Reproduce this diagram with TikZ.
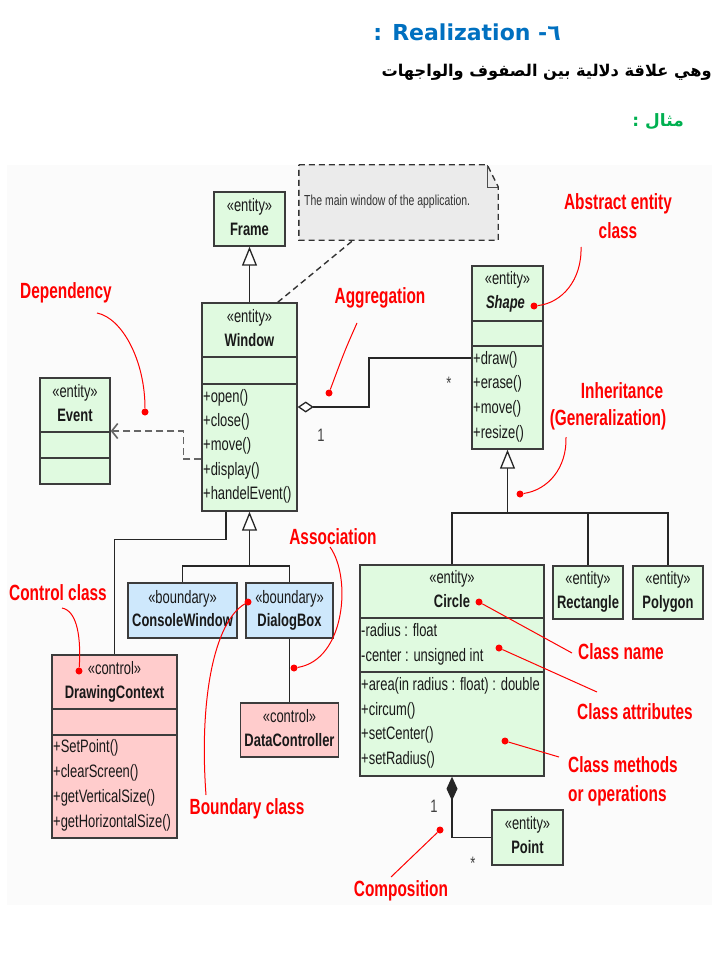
\documentclass[tikz,border=0pt]{standalone}
\usepackage{fontspec}
\TeXXeTstate=1
\usetikzlibrary{arrows.meta,calc}
\newfontfamily\umlf[FakeStretch=0.72]{Liberation Sans}
\newfontfamily\redf[FakeStretch=0.70]{Liberation Sans}
\newfontfamily\titlef{DejaVu Sans}
\newfontfamily\arabicfont[Script=Arabic]{DejaVu Sans}
\definecolor{entfill}{RGB}{224,250,224}
\definecolor{bndfill}{RGB}{206,232,252}
\definecolor{ctlfill}{RGB}{255,204,204}
\definecolor{notefill}{RGB}{235,235,235}
\definecolor{boxline}{RGB}{60,60,60}
\definecolor{umltext}{RGB}{25,25,25}
\definecolor{annred}{RGB}{255,0,0}
\definecolor{titleblue}{RGB}{0,112,192}
\definecolor{titlegreen}{RGB}{0,176,80}
\definecolor{bggray}{RGB}{251,251,251}
\begin{document}
\begin{tikzpicture}[x=1pt,y=-1pt,
  cls/.style={draw=boxline,line width=1.4pt,inner sep=0pt},
  ent/.style={cls,fill=entfill},
  bnd/.style={cls,fill=bndfill},
  ctl/.style={cls,fill=ctlfill},
  divl/.style={draw=boxline,line width=1.4pt},
  st/.style={inner sep=0pt,text height=13pt,text depth=4pt,text=umltext,font=\umlf\fontsize{18}{20}\selectfont},
  nm/.style={st,font=\umlf\bfseries\fontsize{18}{20}\selectfont},
  mt/.style={st,anchor=west},
  mult/.style={st,text=black!75},
  lab/.style={inner sep=0pt,text=annred,font=\redf\bfseries\fontsize{22}{29}\selectfont},
  reddot/.style={circle,fill=annred,inner sep=0pt,minimum size=7pt},
  redline/.style={draw=annred,line width=1pt},
  conn/.style={draw=black!85,line width=1.3pt},
  gen/.style={conn,-{Triangle[fill=white,length=19pt,width=15pt]}},
  notestyle/.style={draw=black!80,line width=1.4pt,dash pattern=on 6pt off 4pt,fill=notefill},
  deplink/.style={draw=black!60,line width=1.6pt,dash pattern=on 7pt off 4pt,-{Straight Barb[length=6pt,width=15pt]}}
]
\useasboundingbox (0,0) rectangle (720,960);
\fill[bggray] (7,165) rectangle (712,905);

% ---- header texts
\node[inner sep=0pt,text=titleblue,font=\titlef\bfseries\fontsize{22}{24}\selectfont] (title) at (467,32) {: Realization -٦};
\node[inner sep=0pt,anchor=east,font=\arabicfont\bfseries\fontsize{16.2}{18}\selectfont] (sub) at (712,72) {\beginR وهي علاقة دلالية بين الصفوف والواجهات\endR};
\node[inner sep=0pt,anchor=east,text=titlegreen,font=\arabicfont\bfseries\fontsize{17}{18}\selectfont] (ex) at (684,122) {\beginR مثال :\endR};

% ---- note
\node[inner sep=0pt,minimum width=199pt,minimum height=75pt] (note) at (398.5,202.5) {};
\draw[notestyle] (note.north west) -- ([xshift=-11pt]note.north east) -- ([yshift=-22pt]note.north east) -- (note.south east) -- (note.south west) -- cycle;
\draw[draw=black!70,line width=1pt] ([xshift=-11pt]note.north east) -- ([xshift=-11pt,yshift=-23pt]note.north east) -- ([yshift=-23pt]note.north east);
\node[st,anchor=west,font=\umlf\fontsize{14.5}{16}\selectfont,text=black!80] (notet) at (304,201) {The main window of the application.};

% ---- class boxes
\node[ent,minimum width=71pt,minimum height=54pt] (frame) at (249.5,219) {};
\node[st] (frameS) at (249.5,207) {«entity»};
\node[nm] (frameN) at (249.5,231) {Frame};

\node[ent,minimum width=95pt,minimum height=208pt] (window) at (249.5,407) {};
\draw[divl] (window.west |- 0,357) -- (window.east |- 0,357);
\draw[divl] (window.west |- 0,384) -- (window.east |- 0,384);
\node[st] (windowS) at (249.5,318) {«entity»};
\node[nm] (windowN) at (249.5,342) {Window};
\node[mt] (wm1) at (203,398) {+open()};
\node[mt] (wm2) at (203,422) {+close()};
\node[mt] (wm3) at (203,446) {+move()};
\node[mt] (wm4) at (203,471) {+display()};
\node[mt] (wm5) at (203,495) {+handelEvent()};

\node[ent,minimum width=70pt,minimum height=106pt] (event) at (75,431) {};
\draw[divl] (event.west |- 0,432) -- (event.east |- 0,432);
\draw[divl] (event.west |- 0,458) -- (event.east |- 0,458);
\node[st] (eventS) at (75,393) {«entity»};
\node[nm] (eventN) at (75,417) {Event};

\node[ent,minimum width=71pt,minimum height=183pt] (shape) at (507.5,357.5) {};
\draw[divl] (shape.west |- 0,321) -- (shape.east |- 0,321);
\draw[divl] (shape.west |- 0,346) -- (shape.east |- 0,346);
\node[st] (shapeS) at (507.5,280) {«entity»};
\node[nm,font=\umlf\bfseries\itshape\fontsize{18}{20}\selectfont] (shapeN) at (505.5,304) {Shape};
\node[mt] (sm1) at (473,360) {+draw()};
\node[mt] (sm2) at (473,384) {+erase()};
\node[mt] (sm3) at (473,409) {+move()};
\node[mt] (sm4) at (473,434) {+resize()};

\node[ent,minimum width=184pt,minimum height=211pt] (circle) at (452,670.5) {};
\draw[divl] (circle.west |- 0,618) -- (circle.east |- 0,618);
\draw[divl] (circle.west |- 0,672) -- (circle.east |- 0,672);
\node[st] (circleS) at (452,579) {«entity»};
\node[nm] (circleN) at (452,603) {Circle};
\node[mt] (ca1) at (361,632) {-radius : float};
\node[mt] (ca2) at (361,657) {-center : unsigned int};
\node[mt] (cm1) at (361,686) {+area(in radius : float) : double};
\node[mt] (cm2) at (361,711) {+circum()};
\node[mt] (cm3) at (361,735) {+setCenter()};
\node[mt] (cm4) at (361,760) {+setRadius()};

\node[ent,minimum width=70pt,minimum height=53pt] (rect) at (588,592.5) {};
\node[st] (rectS) at (588,580) {«entity»};
\node[nm] (rectN) at (588,604) {Rectangle};

\node[ent,minimum width=70pt,minimum height=53pt] (poly) at (668,592.5) {};
\node[st] (polyS) at (668,580) {«entity»};
\node[nm] (polyN) at (668,604) {Polygon};

\node[ent,minimum width=71pt,minimum height=55pt] (point) at (527.5,837.5) {};
\node[st] (pointS) at (527.5,825) {«entity»};
\node[nm] (pointN) at (527.5,849) {Point};

\node[bnd,minimum width=109pt,minimum height=55pt] (console) at (182.5,610.5) {};
\node[st] (consoleS) at (182.5,599) {«boundary»};
\node[nm] (consoleN) at (182.5,622) {ConsoleWindow};

\node[bnd,minimum width=87pt,minimum height=55pt] (dialog) at (289.5,610.5) {};
\node[st] (dialogS) at (289.5,599) {«boundary»};
\node[nm] (dialogN) at (289.5,622) {DialogBox};

\node[ctl,minimum width=98pt,minimum height=54pt] (datac) at (289.5,730) {};
\node[st] (datacS) at (289.5,718) {«control»};
\node[nm] (datacN) at (289.5,742) {DataController};

\node[ctl,minimum width=125pt,minimum height=183pt] (drawc) at (114.5,746.5) {};
\draw[divl] (drawc.west |- 0,709) -- (drawc.east |- 0,709);
\draw[divl] (drawc.west |- 0,735) -- (drawc.east |- 0,735);
\node[st] (drawcS) at (114.5,670) {«control»};
\node[nm] (drawcN) at (114.5,694) {DrawingContext};
\node[mt] (dm1) at (53,748) {+SetPoint()};
\node[mt] (dm2) at (53,773) {+clearScreen()};
\node[mt] (dm3) at (53,798) {+getVerticalSize()};
\node[mt] (dm4) at (53,823) {+getHorizontalSize()};

% ---- connectors
\draw[gen] (window.north) -- (frame.south);
\draw[draw=black!80,line width=1.4pt,dash pattern=on 6pt off 4pt] ([xshift=-20pt]window.north east) -- ([xshift=-145pt]note.south east);
\draw[deplink] ([yshift=-52pt]window.west) -- ++(-18,0) -- ++(0,-28) -- (event.east);

\coordinate (aggbend) at (369,358);
\draw[conn,{Diamond[fill=white,length=16pt,width=11pt]}-] (window.east) -| (aggbend) -- (aggbend -| shape.west);
\node[mult] (m1) at (321,437) {1};
\node[mult] (m2) at (449,385) {*};

\coordinate (genbar) at (507.5,513);
\draw[gen] (genbar) -- (shape.south);
\draw[conn] (circle.north) |- (genbar -| poly.north) -- (poly.north);
\draw[conn] (rect.north) -- (rect.north |- genbar);

\coordinate (genbar2) at (249.5,566);
\draw[gen] (genbar2) -- (window.south);
\draw[conn] (console.north) |- (genbar2 -| dialog.north) -- (dialog.north);

\draw[conn] ([xshift=-23.5pt]window.south) -- ++(0,28) -| (drawc.north);
\draw[conn] (dialog.south) -- (datac.north);

\draw[conn,{Diamond[length=24pt,width=11pt]}-] (circle.south) |- (point.west);
\node[mult] (m3) at (434,808) {1};
\node[mult] (m4) at (473,865) {*};

% ---- annotations
\node[lab] (lDep) at (66,293) {Dependency};
\node[reddot] (dDep) at (145,412) {};
\coordinate (sDep) at (97,313);
\draw[redline] (sDep) .. controls (122,318) and (145,360) .. (dDep);

\node[lab] (lAgg) at (380,298) {Aggregation};
\node[reddot] (dAgg) at (329,393) {};
\coordinate (sAgg) at (357,323);
\draw[redline] (sAgg) .. controls (345,350) .. (dAgg);

\node[lab,align=center] (lAbs) at (618,216.5) {Abstract entity\\class};
\node[reddot] (dAbs) at (534,306) {};
\coordinate (sAbs) at (581,247);
\draw[redline] (sAbs) .. controls (582,280) and (562,303) .. (dAbs);

\node[lab] (lInh) at (622,391) {Inheritance};
\node[lab] (lGen) at (608,420) {(Generalization)};
\node[reddot] (dInh) at (520,494) {};
\coordinate (sInh) at (566,437);
\draw[redline] (sInh) .. controls (567,468) and (548,490) .. (dInh);

\node[lab] (lCN) at (621,652) {Class name};
\node[reddot] (dCN) at (479,602) {};
\coordinate (sCN) at (572,653);
\draw[redline] (sCN) -- (dCN);

\node[lab] (lCA) at (635,712) {Class attributes};
\node[reddot] (dCA) at (499,648) {};
\coordinate (sCA) at (597,692);
\draw[redline] (sCA) -- (dCA);

\node[lab,anchor=west,align=left] (lCM) at (568,781) {Class methods\\or operations};
\node[reddot] (dCM) at (505,741) {};
\coordinate (sCM) at (559,757);
\draw[redline] (sCM) -- (dCM);

\node[lab] (lComp) at (401,891) {Composition};
\node[reddot] (dComp) at (440,830) {};
\coordinate (sComp) at (391,877);
\draw[redline] (sComp) -- (dComp);

\node[lab] (lCtl) at (58,593) {Control class};
\node[reddot] (dCtl) at (79,671) {};
\coordinate (sCtl) at (62,608);
\draw[redline] (sCtl) .. controls (78,611) and (81,640) .. (dCtl);

\node[lab] (lAss) at (333,537) {Association};
\node[reddot] (dAss) at (294,668) {};
\coordinate (sAss) at (330,547);
\draw[redline] (sAss) .. controls (352,578) and (345,660) .. (dAss);

\node[lab] (lBnd) at (247,809) {Boundary class};
\node[reddot] (dBnd) at (248,602) {};
\coordinate (sBnd) at (206,795);
\draw[redline] (sBnd) .. controls (199,700) and (214,622) .. (dBnd);
\end{tikzpicture}
\end{document}
